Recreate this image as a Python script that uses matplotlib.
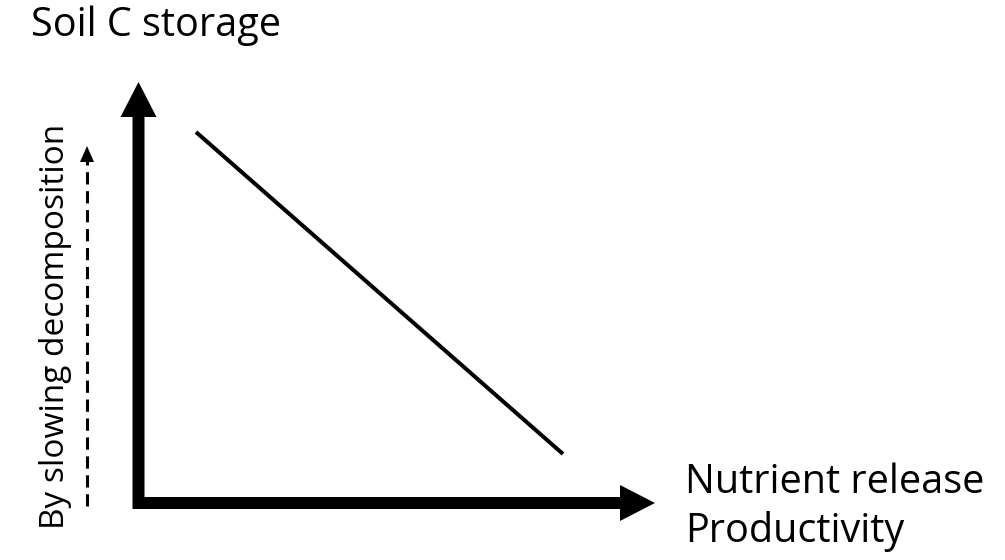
import matplotlib
matplotlib.use("Agg")
import matplotlib.pyplot as plt

plt.rcParams["font.family"] = ["Open Sans", "DejaVu Sans"]

# conceptual relation: soil C storage falls as nutrient release rises
trend_x = [196, 563]
trend_y = [132, 454]

title_y = "Soil C storage"
label_x = ["Nutrient release", "Productivity"]
label_mech = "By slowing decomposition"

fig = plt.figure(figsize=(10.05, 5.6), dpi=100)
ax = fig.add_axes([0, 0, 1, 1])
ax.set_xlim(0, 1005)
ax.set_ylim(560, 0)
ax.axis("off")

# axes arrows
ax.arrow(138.5, 509, 0, 82 - 509, width=12, head_width=36, head_length=35,
         length_includes_head=True, fc="black", ec="none")
ax.arrow(133, 503, 655 - 133, 0, width=12, head_width=36, head_length=35,
         length_includes_head=True, fc="black", ec="none")

# trend line
ax.plot(trend_x, trend_y, color="black", lw=2.9, solid_capstyle="butt")

# dashed mechanism arrow
ax.plot([87, 87], [506, 158], color="black", lw=2.2,
        linestyle=(0, (4.0, 2.2)), dash_capstyle="butt")
ax.arrow(87, 162, 0, -16, width=0.1, head_width=14, head_length=16,
         length_includes_head=True, fc="black", ec="none")

fs = 28.5
ax.text(31, 36, title_y, fontsize=fs, ha="left", va="baseline")
ax.text(685, 493, label_x[0], fontsize=fs, ha="left", va="baseline")
ax.text(685, 542, label_x[1], fontsize=fs, ha="left", va="baseline")
ax.text(64, 326.5, label_mech, fontsize=24, rotation=90,
        ha="center", va="baseline", rotation_mode="anchor")

fig.savefig("out.png", dpi=100)
